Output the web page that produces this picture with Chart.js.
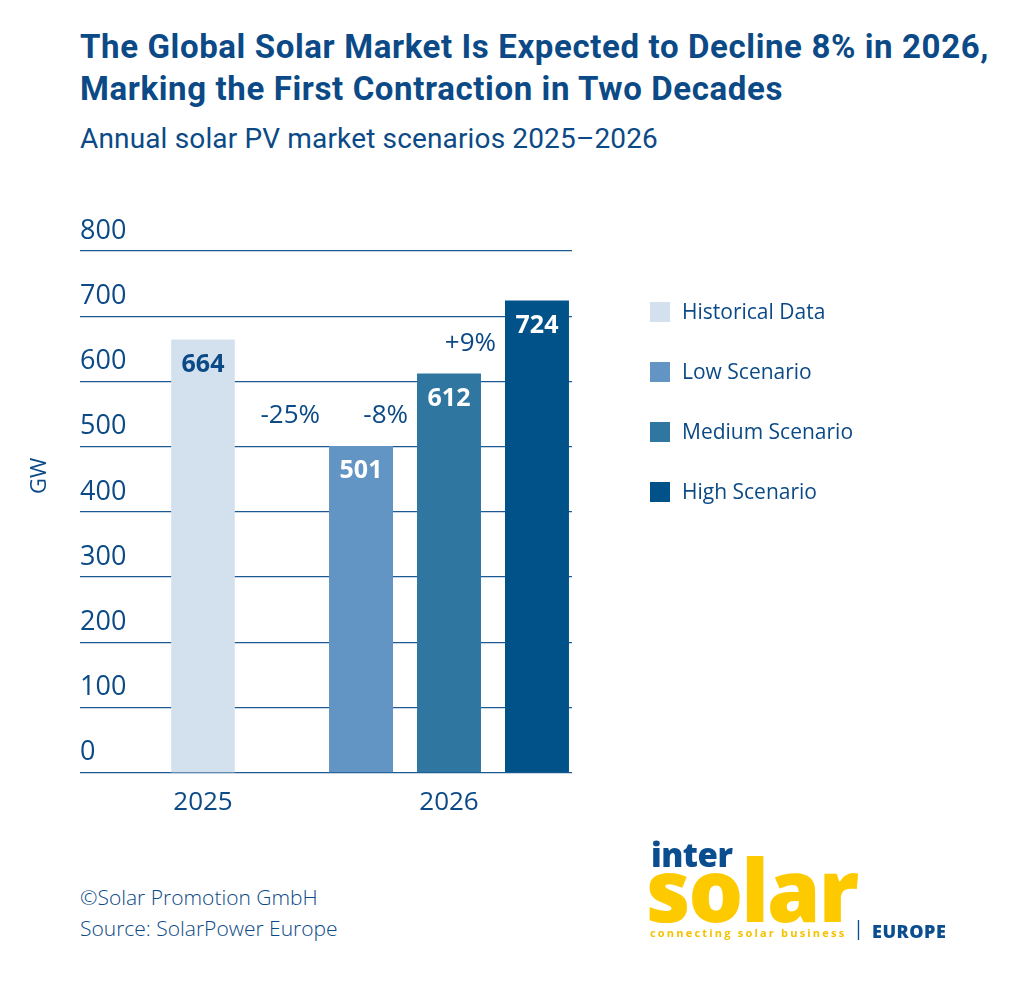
<!DOCTYPE html>
<html>
<head>
<meta charset="utf-8">
<script src="https://cdn.jsdelivr.net/npm/chart.js@4.4.1/dist/chart.umd.min.js"></script>
<style>
  html, body { margin: 0; padding: 0; background: #fff; }
  body { width: 1031px; height: 988px; position: relative; overflow: hidden; font-family: "Open Sans", sans-serif; color: #0b4a86; }
  #title { position: absolute; left: 80px; top: 26px; font-family: Roboto, sans-serif; font-weight: 700; font-size: 33px; line-height: 42px; letter-spacing: 0.62px; margin: 0; }
  #subtitle { position: absolute; left: 80px; top: 121px; font-family: Roboto, sans-serif; font-weight: 400; font-size: 28px; line-height: 36px; letter-spacing: 0.15px; }
  #wrap { position: absolute; left: 0; top: 190px; width: 1031px; height: 647px; }
  #footer { position: absolute; left: 80px; top: 882px; font-weight: 300; font-size: 21px; line-height: 31px; }
  #logo { position: absolute; left: 646px; top: 836px; width: 320px; height: 110px; }
  #logo .inter { position: absolute; left: 5px; top: 0; font-weight: 800; font-size: 33px; line-height: 38px; color: #0a4e90; letter-spacing: -0.5px; }
  #logo .solar { position: absolute; left: 0; top: 3px; font-weight: 800; font-size: 86px; line-height: 100px; color: #fdca00; letter-spacing: -2px; }
  #logo .tag { position: absolute; left: 4px; top: 89px; font-weight: 700; font-size: 11px; color: #f5c200; letter-spacing: 2.2px; }
  #logo .bar { position: absolute; left: 207px; top: 78px; font-size: 20px; color: #0a4e90; }
  #logo .eu { position: absolute; left: 226px; top: 83px; font-weight: 800; font-size: 18px; color: #0a4e90; letter-spacing: 0.5px; }
</style>
</head>
<body>
<h1 id="title">The Global Solar Market Is Expected to Decline 8% in 2026,<br>Marking the First Contraction in Two Decades</h1>
<div id="subtitle">Annual solar PV market scenarios 2025–2026</div>
<div id="wrap"><canvas id="solarChart"></canvas></div>
<div id="footer">©Solar Promotion GmbH<br>Source: SolarPower Europe</div>
<div id="logo">
  <div class="inter">inter</div>
  <div class="solar">solar</div>
  <div class="tag">connecting solar business</div>
  <div class="bar">|</div>
  <div class="eu">EUROPE</div>
</div>
<script>
var years = ["2025", "2026"];
var historical = [664, null];
var lowScenario = [null, 501];
var mediumScenario = [null, 612];
var highScenario = [null, 724];
var changeLabels = ["-25%", "-8%", "+9%"];   // Low, Medium, High vs 2025
var yTicks = [0, 100, 200, 300, 400, 500, 600, 700, 800];

var blue = '#0b4a86';
var font = '"Open Sans"';

// values in the bars, change labels, the GW label and the legend on the right
var barLabels = {
  id: 'barLabels',
  afterDraw: function (chart) {
    var ctx = chart.ctx;
    var area = chart.chartArea;
    ctx.save();
    chart.data.datasets.forEach(function (ds, i) {
      var meta = chart.getDatasetMeta(i);
      meta.data.forEach(function (bar, j) {
        var v = ds.data[j];
        if (v == null) return;
        ctx.font = '700 25px ' + font;
        ctx.fillStyle = i === 0 ? blue : '#ffffff';
        ctx.textAlign = 'center';
        ctx.textBaseline = 'middle';
        ctx.fillText(String(v), bar.x, bar.y + 25);
        if (i > 0) {
          var prev = i === 1 ? bar : chart.getDatasetMeta(i - 1).data[j];
          ctx.font = '400 26px ' + font;
          ctx.fillStyle = blue;
          ctx.textAlign = 'right';
          ctx.fillText(changeLabels[i - 1], bar.x - bar.width / 2 - 9, prev.y - 30);
        }
      });
    });

    // axis unit
    ctx.save();
    ctx.translate(area.left - 40, (area.top + area.bottom) / 2 - 36);
    ctx.rotate(-Math.PI / 2);
    ctx.font = '400 22px ' + font;
    ctx.fillStyle = blue;
    ctx.textAlign = 'center';
    ctx.textBaseline = 'middle';
    ctx.fillText('GW', 0, 0);
    ctx.restore();

    // legend
    var items = Chart.defaults.plugins.legend.labels.generateLabels(chart);
    ctx.font = '400 21px ' + font;
    ctx.textAlign = 'left';
    ctx.textBaseline = 'middle';
    items.forEach(function (it, k) {
      var x = area.right + 78;
      var y = area.top + 51 + k * 60;
      ctx.fillStyle = it.fillStyle;
      ctx.fillRect(x, y, 20, 20);
      ctx.fillStyle = blue;
      ctx.fillText(it.text, x + 32, y + 11);
    });
    ctx.restore();
  }
};

var ctx = document.getElementById('solarChart').getContext('2d');
new Chart(ctx, {
  type: 'bar',
  data: {
    labels: years,
    datasets: [
      { label: 'Historical Data', data: historical, backgroundColor: '#d3e1ee', grouped: false, barThickness: 63 },
      { label: 'Low Scenario', data: lowScenario, backgroundColor: '#6295c3' },
      { label: 'Medium Scenario', data: mediumScenario, backgroundColor: '#2f77a0' },
      { label: 'High Scenario', data: highScenario, backgroundColor: '#02528a' }
    ]
  },
  options: {
    responsive: true,
    maintainAspectRatio: false,
    animation: false,
    categoryPercentage: 1.073,
    barPercentage: 0.727,
    layout: { padding: { top: 61, left: 80, right: 459, bottom: 13 } },
    plugins: {
      tooltip: { enabled: false },
      legend: { display: false }
    },
    scales: {
      x: {
        grid: { display: false },
        border: { display: false },
        ticks: { color: blue, padding: 6, font: { family: font, size: 26 } }
      },
      y: {
        min: 0,
        max: 800,
        afterBuildTicks: function (scale) {
          scale.ticks = yTicks.map(function (v) { return { value: v }; });
        },
        border: { display: false },
        grid: { color: '#1d5a93', lineWidth: 1.3, drawTicks: false },
        ticks: { mirror: true, padding: 0, labelOffset: -20, color: blue, font: { family: font, size: 27 } }
      }
    }
  },
  plugins: [barLabels]
});
</script>
</body>
</html>
